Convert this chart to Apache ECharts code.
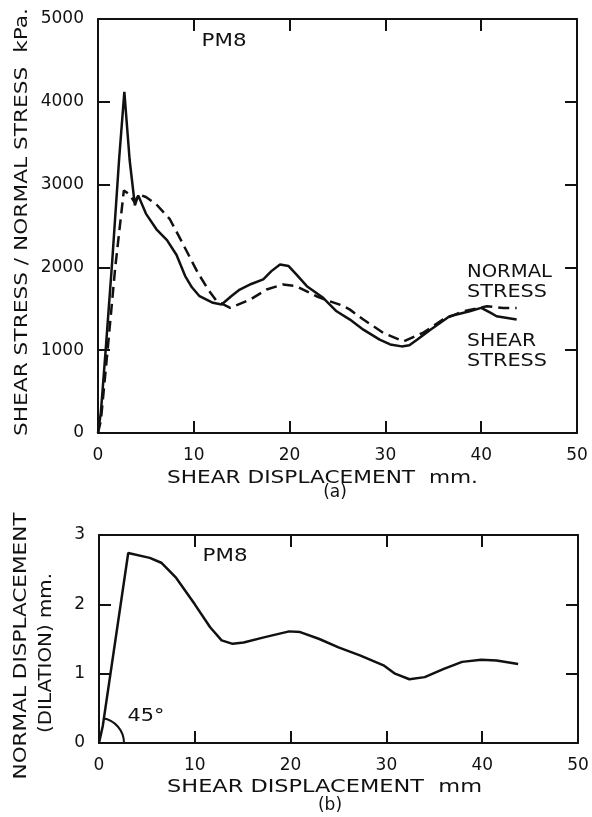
<!DOCTYPE html>
<html>
<head>
<meta charset="utf-8">
<script src="https://cdn.jsdelivr.net/npm/echarts@6/dist/echarts.min.js"></script>
<style>
  html, body { margin: 0; padding: 0; background: #fff; }
  #chart { width: 592px; height: 817px; }
</style>
</head>
<body>
<div id="chart"></div>
<script>
// ---- (a) shear stress and normal stress against shear displacement, test PM8 ----
const shearDispA = [0, 0.3, 0.8, 1.5, 2.2, 2.75, 3.3, 3.85, 4.2, 5.0, 6.1, 7.2, 8.2, 9.1, 9.8, 10.6, 12.0, 12.9, 14.0, 14.8, 16.0, 17.25, 18.1, 19.0, 19.9, 20.7, 21.8, 23.5, 24.9, 26.3, 27.7, 29.4, 30.5, 31.7, 32.5, 33.3, 34.7, 36.7, 38.8, 40.0, 41.0, 41.6, 43.7];
const shearStress = [0, 250, 1000, 2100, 3300, 4120, 3300, 2750, 2870, 2650, 2460, 2330, 2150, 1895, 1760, 1652, 1572, 1552, 1660, 1733, 1800, 1855, 1955, 2036, 2016, 1915, 1773, 1633, 1470, 1370, 1248, 1127, 1070, 1046, 1060, 1127, 1248, 1410, 1470, 1511, 1450, 1410, 1370];

const normalDispA = [0, 0.3, 1.0, 1.8, 2.7, 3.3, 3.8, 4.3, 5.0, 6.1, 7.5, 8.7, 10.4, 11.5, 12.4, 13.8, 15.9, 17.6, 19.3, 20.7, 22.8, 24.2, 25.5, 26.3, 27.7, 29.8, 31.9, 33.9, 36.0, 38.1, 40.6, 42.3, 43.7];
const normalStress = [0, 150, 1000, 2000, 2930, 2880, 2790, 2880, 2850, 2760, 2582, 2320, 1940, 1733, 1591, 1511, 1612, 1733, 1794, 1773, 1652, 1591, 1540, 1490, 1370, 1208, 1107, 1208, 1370, 1470, 1531, 1511, 1511];

// ---- (b) normal displacement (dilation) against shear displacement ----
const shearDispB = [0, 0.4, 3.05, 5.3, 6.5, 8.06, 10.0, 11.6, 12.8, 13.95, 15.1, 17.1, 19.85, 21.0, 23.0, 25.0, 27.3, 29.7, 30.9, 32.4, 34.0, 36.0, 37.9, 39.9, 41.5, 43.75];
const dilation = [0, 0.25, 2.74, 2.67, 2.6, 2.38, 2.0, 1.67, 1.48, 1.43, 1.45, 1.52, 1.61, 1.6, 1.5, 1.38, 1.26, 1.12, 1.0, 0.92, 0.95, 1.07, 1.17, 1.2, 1.19, 1.14];

// ---- axis ticks ----
const dispTicks = [0, 10, 20, 30, 40, 50];
const stressTicks = [0, 1000, 2000, 3000, 4000, 5000];
const dilationTicks = [0, 1, 2, 3];

const FONT = '"DejaVu Sans", sans-serif';
const INK = '#111';

function axis(extra, ticks) {
  return Object.assign({
    type: 'value',
    min: ticks[0],
    max: ticks[ticks.length - 1],
    interval: ticks[1] - ticks[0],
    axisLine: { show: true, onZero: false, lineStyle: { color: INK, width: 2 } },
    axisTick: { show: true, inside: true, length: 12, lineStyle: { color: INK, width: 2 } },
    splitLine: { show: false },
    axisLabel: { show: true, color: INK, fontFamily: FONT, fontSize: 17, margin: 14,
      formatter: (v) => String(v) }
  }, extra);
}
const hidden = { show: false };

function pairs(xs, ys) { return xs.map((x, i) => [x, ys[i]]); }

const chart = echarts.init(document.getElementById('chart'), null, { renderer: 'canvas' });

chart.setOption({
  animation: false,
  backgroundColor: '#fff',
  grid: [
    { left: 98, top: 19, width: 479, height: 414 },
    { left: 99, top: 535, width: 479, height: 208 }
  ],
  xAxis: [
    axis({ gridIndex: 0, position: 'bottom' }, dispTicks),
    axis({ gridIndex: 0, position: 'top', axisLabel: hidden }, dispTicks),
    axis({ gridIndex: 1, position: 'bottom' }, dispTicks),
    axis({ gridIndex: 1, position: 'top', axisLabel: hidden }, dispTicks)
  ],
  yAxis: [
    axis({ gridIndex: 0, position: 'left' }, stressTicks),
    axis({ gridIndex: 0, position: 'right', axisLabel: hidden }, stressTicks),
    axis({ gridIndex: 1, position: 'left' }, dilationTicks),
    axis({ gridIndex: 1, position: 'right', axisLabel: hidden }, dilationTicks)
  ],
  series: [
    {
      name: 'SHEAR STRESS', type: 'line', xAxisIndex: 0, yAxisIndex: 0,
      data: pairs(shearDispA, shearStress), showSymbol: false, symbol: 'none',
      lineStyle: { color: INK, width: 2.5 }
    },
    {
      name: 'NORMAL STRESS', type: 'line', xAxisIndex: 0, yAxisIndex: 0,
      data: pairs(normalDispA, normalStress), showSymbol: false, symbol: 'none',
      lineStyle: { color: INK, width: 2.5, type: [11, 6] }
    },
    {
      name: 'DILATION', type: 'line', xAxisIndex: 2, yAxisIndex: 2,
      data: pairs(shearDispB, dilation), showSymbol: false, symbol: 'none',
      lineStyle: { color: INK, width: 2.5 }
    }
  ]
});

// text helpers: the lettering is widely tracked, so each label is stretched
// along its baseline to the length it should occupy
const measureCtx = document.createElement('canvas').getContext('2d');
function textWidth(text, size) {
  measureCtx.font = size + 'px ' + FONT;
  return measureCtx.measureText(text).width;
}
function label(text, x, y, size, span, opts) {
  opts = opts || {};
  const align = opts.align || 'center';
  const el = {
    type: 'text', x: x, y: y, silent: true,
    style: { text: text, x: 0, y: 0, fill: INK, font: size + 'px ' + FONT,
      align: align, verticalAlign: 'middle',
      textAlign: align, textVerticalAlign: 'middle' }
  };
  if (span) el.scaleX = span / textWidth(text, size);
  if (opts.vertical) el.rotation = Math.PI / 2;
  return el;
}

// 45 degree arc at the origin of panel (b)
const origin = chart.convertToPixel({ xAxisIndex: 2, yAxisIndex: 2 }, [0, 0]);

chart.setOption({
  graphic: [
    // panel (a)
    label('PM8', 224, 42, 17, 45),
    label('NORMAL', 467, 273, 17, 85, { align: 'left' }),
    label('STRESS', 467, 293, 17, 80, { align: 'left' }),
    label('SHEAR', 467, 342, 17, 69, { align: 'left' }),
    label('STRESS', 467, 362, 17, 80, { align: 'left' }),
    label('SHEAR DISPLACEMENT  mm.', 322.5, 478, 18, 311),
    label('(a)', 335, 493, 17),
    label('SHEAR STRESS / NORMAL STRESS  kPa.', 22, 222, 18, 428, { vertical: true }),
    // panel (b)
    label('PM8', 225, 557, 17, 45),
    label('45°', 146, 717, 17, 37),
    label('SHEAR DISPLACEMENT  mm', 324.5, 787, 18, 315),
    label('(b)', 330, 806, 17),
    label('NORMAL DISPLACEMENT', 21, 646, 18, 267, { vertical: true }),
    label('(DILATION) mm.', 46, 653, 18, 160, { vertical: true }),
    {
      type: 'arc', silent: true,
      shape: { cx: origin[0], cy: origin[1], r: 25, startAngle: -Math.PI * 0.45, endAngle: 0, clockwise: true },
      style: { stroke: INK, lineWidth: 2, fill: null }
    }
  ]
});
</script>
</body>
</html>
